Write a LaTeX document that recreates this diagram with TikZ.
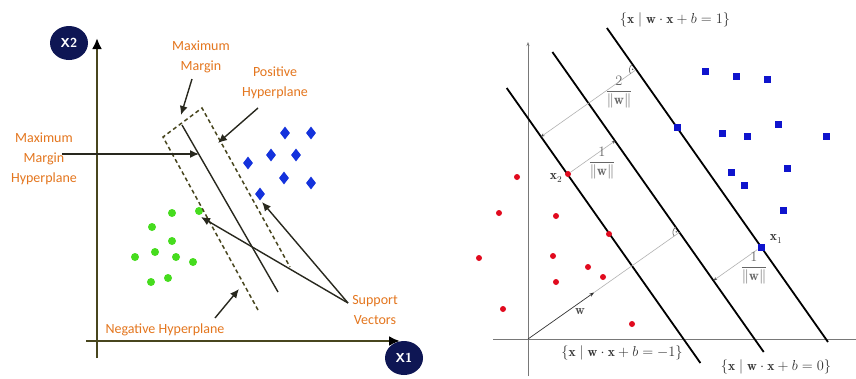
\documentclass[tikz,border=0pt]{standalone}
\usepackage{fontspec}
\usepackage{amsmath}
\newfontfamily\labfont{Carlito}
\usetikzlibrary{arrows.meta,shapes.geometric}
\definecolor{orng}{RGB}{228,118,30}
\definecolor{navy}{RGB}{14,22,84}
\definecolor{axolive}{RGB}{72,70,30}
\definecolor{arrc}{RGB}{40,40,30}
\definecolor{gdot}{RGB}{70,220,30}
\definecolor{bdia}{RGB}{20,50,220}
\definecolor{rdot}{RGB}{225,10,30}
\definecolor{bsq}{RGB}{15,20,205}
\definecolor{mgray}{RGB}{120,120,120}
\begin{document}
\begin{tikzpicture}[x=1pt,y=-1pt,
  lab/.style={font=\labfont\fontsize{14}{20}\selectfont, text=orng, align=center, inner sep=0pt},
  arr/.style={draw=arrc, line width=1.4pt, -{Latex[length=9pt,width=8pt]}},
  axisL/.style={draw=axolive, line width=2.6pt, -{Latex[length=11pt,width=10pt,color=black]}},
  axbub/.style={ellipse, fill=navy, minimum width=38pt, minimum height=34pt, inner sep=0pt, text=white, font=\sffamily\bfseries\fontsize{13}{13}\selectfont},
  gpt/.style={circle, fill=gdot, minimum size=8pt, inner sep=0pt},
  bdi/.style={diamond, fill=bdia, minimum width=10pt, minimum height=13pt, inner sep=0pt},
  rpt/.style={circle, fill=rdot, minimum size=6pt, inner sep=0pt},
  bpt/.style={rectangle, fill=bsq, minimum size=7pt, inner sep=0pt},
  dashbox/.style={draw=axolive, line width=1.5pt, dash pattern=on 4pt off 3pt},
  hplane/.style={draw=black, line width=1.8pt},
  thinaxis/.style={draw=mgray, line width=1pt},
  margl/.style={draw=black!30, line width=0.6pt},
  setlab/.style={font=\fontsize{13.5}{15}\selectfont, inner sep=0pt, text=black!80},
  fraclab/.style={font=\fontsize{14}{16}\selectfont, inner sep=0pt, text=black!60},
  ramark/.style={draw=black!55, line width=0.7pt}
]
\useasboundingbox (0,0) rectangle (856,378);
\fill[white] (0,0) rectangle (856,378);

% ================= LEFT PANEL =================
\coordinate (yb) at (97,358);
\coordinate (yt) at (97,38);
\coordinate (xl) at (86,341);
\coordinate (xr) at (400,341);
\draw[axisL] (yb) -- (yt);
\draw[axisL] (xl) -- (xr);
\node[axbub] (X2) at (69,43) {X2};
\node[axbub] (X1) at (404,358) {X1};

% green points
\foreach \n/\px/\py in {1/172/213, 2/199/211, 3/152/227, 4/172/241, 5/135/257, 6/155/252, 7/176/257, 8/193/262, 9/151/282, 10/168/278}
  \node[gpt] (g\n) at (\px,\py) {};
% blue diamonds
\foreach \n/\px/\py in {1/285/133, 2/311/133, 3/248/163, 4/271/155, 5/296/155, 6/284/178, 7/311/183, 8/260/194}
  \node[bdi] (d\n) at (\px,\py) {};

% margin box
\coordinate (bl1) at (258,310);
\coordinate (bl2) at (163,137);
\coordinate (bl3) at (202,108);
\coordinate (bl4) at (290,267);
\draw[dashbox] (bl1) -- (bl2) -- (bl3) -- (bl4);
% max margin hyperplane
\coordinate (hp1) at (182,125);
\coordinate (hp2) at (278,292);
\draw[draw=arrc, line width=1.4pt] (hp1) -- (hp2);

% labels
\node[lab] (mm) at (201,57) {Maximum\\Margin};
\node[lab] (ph) at (275,83) {Positive\\Hyperplane};
\node[lab] (mmh) at (44,159) {Maximum\\Margin\\Hyperplane};
\node[lab] (nh) at (165,330) {Negative Hyperplane};
\node[lab] (sv) at (375,310) {Support\\Vectors};

% arrows
\coordinate (mmS) at (192,79);
\coordinate (mmT) at (181,115);
\draw[arr] (mmS) -- (mmT);
\coordinate (phS) at (258,108);
\coordinate (phT) at (218,143);
\draw[arr] (phS) -- (phT);
\coordinate (mmhS) at (62,154);
\coordinate (mmhT) at (199,154);
\draw[arr] (mmhS) -- (mmhT);
\coordinate (nhS) at (215,318);
\coordinate (nhT) at (239,289);
\draw[arr] (nhS) -- (nhT);
\coordinate (svS) at (348,303);
\coordinate (svG) at (201,217);
\coordinate (svB) at (262,202);
\draw[arr] (svS) -- (svG);
\draw[arr] (svS) -- (svB);

% ================= RIGHT PANEL =================
\coordinate (vb) at (528,376);
\coordinate (vt) at (528,42);
\coordinate (hl) at (493,339);
\coordinate (hr) at (856,339);
\draw[thinaxis, -{Stealth[length=4pt,width=3pt]}] (vb) -- (vt);
\draw[thinaxis] (hl) -- (hr);

% hyperplanes
\coordinate (l1a) at (506.7,88);  \coordinate (l1b) at (700.4,363);
\coordinate (l2a) at (552.4,52);  \coordinate (l2b) at (763.7,352);
\coordinate (l3a) at (606.9,28);  \coordinate (l3b) at (828.0,342);
\draw[hplane] (l1a) -- (l1b);
\draw[hplane] (l2a) -- (l2b);
\draw[hplane] (l3a) -- (l3b);

% margin measurement lines
\coordinate (m2a) at (541,136.7);
\coordinate (m2b) at (635.8,69.9);
\draw[margl, {Stealth[length=3.5pt,width=3pt,color=black!70]}-] (m2a) -- (m2b);
\coordinate (m1b) at (615.4,140.6);
\coordinate (x1b) at (713.6,280.4);
\coordinate (wend) at (594.2,292.4);
\coordinate (wperp) at (679.4,232.4);
\coordinate (orig) at (528,339);
\draw[margl] (wend) -- (wperp);

% right angle marks
\draw[ramark] (m2b) ++(144.8:6.5) arc[start angle=144.8, end angle=234.8, radius=6.5];
\fill[black!70] (m2b) ++(190:3.2) circle[radius=0.8];
\draw[ramark] (wperp) ++(144.8:6.5) arc[start angle=144.8, end angle=234.8, radius=6.5];
\fill[black!70] (wperp) ++(190:3.2) circle[radius=0.8];

% red points
\foreach \n/\px/\py in {1/517/177, 3/499/213, 4/556/216, 5/479/258, 6/553/256, 7/588/267, 8/609/234, 9/603/277, 10/556/282, 11/503/309, 12/632/324}
  \node[rpt] (r\n) at (\px,\py) {};
\node[rpt] (rx2) at (568,174) {};
% blue squares
\foreach \n/\px/\py in {1/705/71, 2/736/76, 3/767/79, 4/677/127, 5/722/133, 6/747/136, 7/778/124, 8/826/136, 9/731/172, 10/787/168, 11/744/185, 12/783/210}
  \node[bpt] (b\n) at (\px,\py) {};
\node[bpt] (bx1) at (761,247) {};

\draw[margl, {Stealth[length=3.5pt,width=3pt,color=black!70]}-] (m1b) -- (rx2);
\draw[margl, {Stealth[length=3.5pt,width=3pt,color=black!70]}-] (x1b) -- (bx1);
\draw[draw=black!80, line width=0.7pt, -{Stealth[length=5pt,width=3.5pt]}] (orig) -- (wend);

% labels
\node[setlab] (s1) at (675,20) {$\{\mathbf{x}\mid\mathbf{w}\cdot\mathbf{x}+b=1\}$};
\node[setlab] (sm1) at (622,353) {$\{\mathbf{x}\mid\mathbf{w}\cdot\mathbf{x}+b=-1\}$};
\node[setlab] (s0) at (776,367) {$\{\mathbf{x}\mid\mathbf{w}\cdot\mathbf{x}+b=0\}$};
\node[fraclab] (f2) at (619,92) {$\dfrac{2}{\|\mathbf{w}\|}$};
\node[fraclab] (f1a) at (602,163) {$\dfrac{1}{\|\mathbf{w}\|}$};
\node[fraclab] (f1b) at (754,268) {$\dfrac{1}{\|\mathbf{w}\|}$};
\node[setlab] (lx2) at (556,178) {$\mathbf{x}_2$};
\node[setlab] (lx1) at (776,239) {$\mathbf{x}_1$};
\node[setlab, text=black!70] (lw) at (580,312) {$\mathbf{w}$};
\end{tikzpicture}
\end{document}
